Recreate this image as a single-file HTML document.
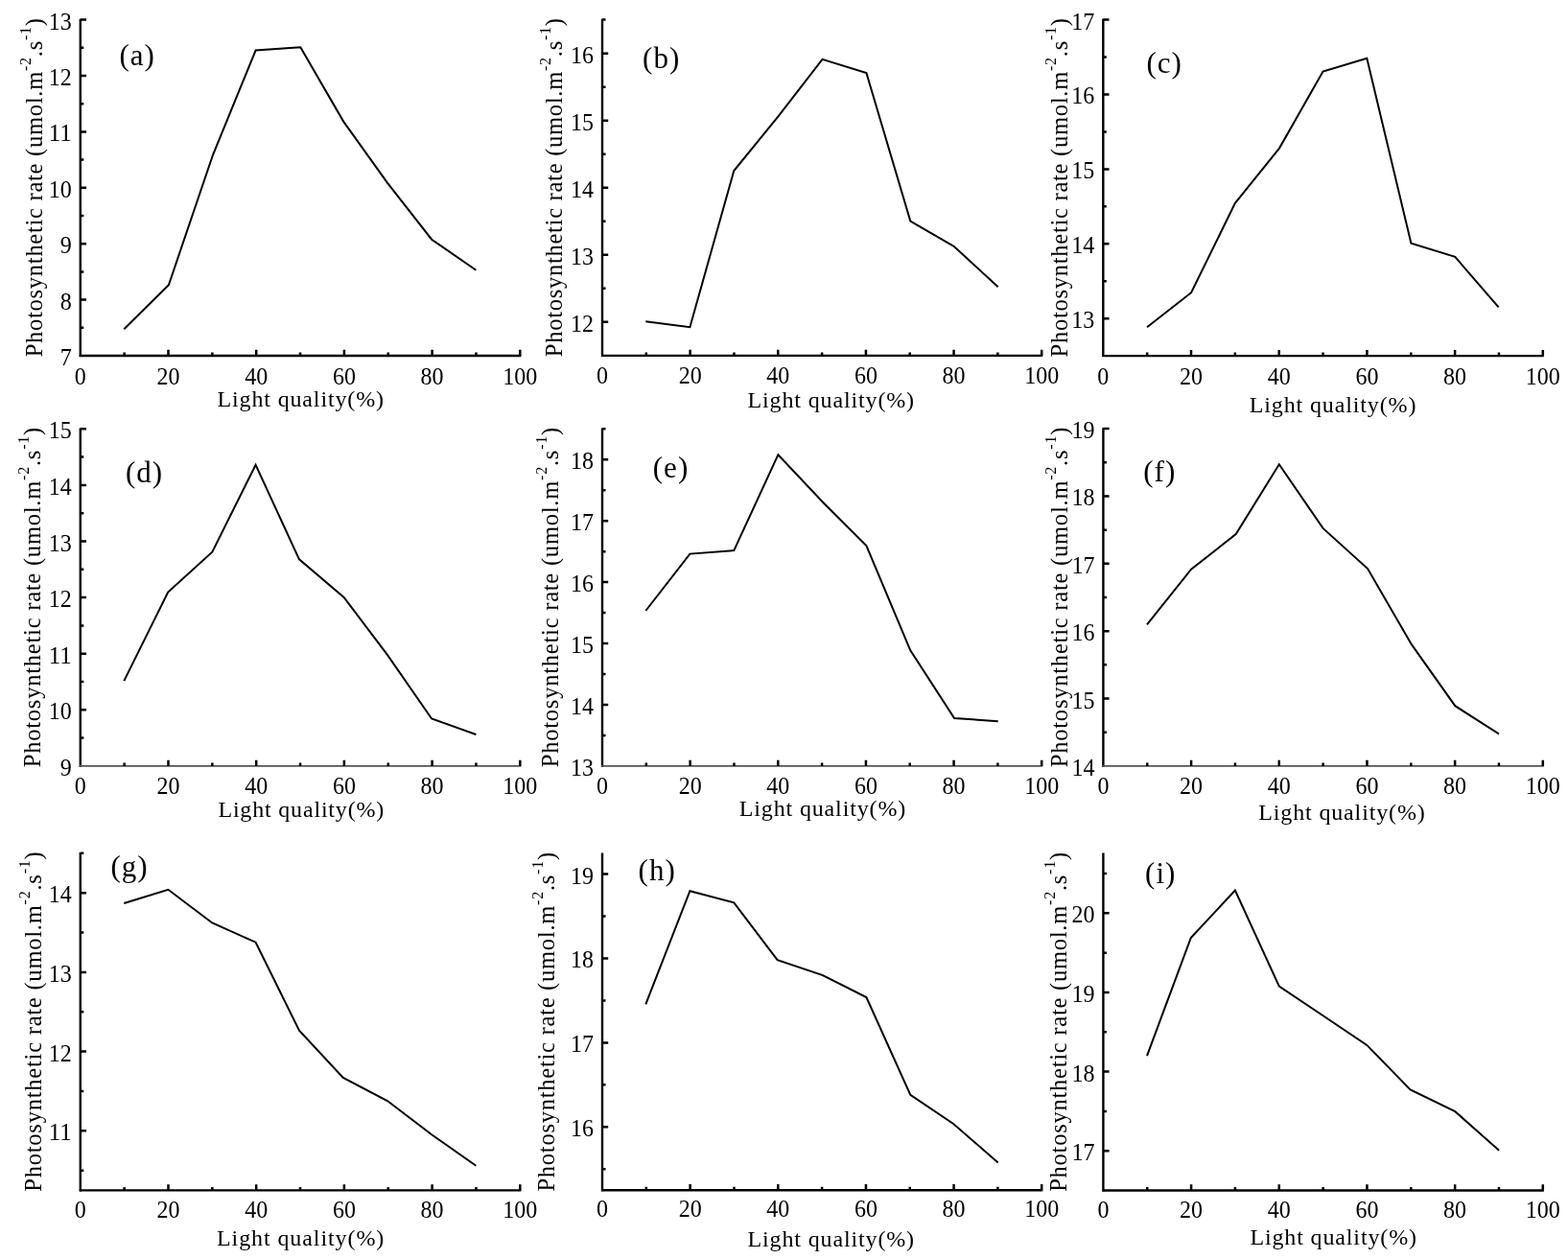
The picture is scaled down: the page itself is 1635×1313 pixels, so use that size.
<!DOCTYPE html>
<html><head><meta charset="utf-8"><title>Photosynthetic rate vs light quality</title>
<style>
html,body{margin:0;padding:0;background:#fff;}
body{width:1635px;height:1313px;overflow:hidden;}
svg{display:block;}
text{font-family:"Liberation Serif", "Times New Roman", serif;fill:#000;}
.ax{fill:none;stroke:#000;stroke-width:2.4;}
.axt{fill:none;stroke:#555;stroke-width:1.6;}
.tk{fill:none;stroke:#000;stroke-width:2.5;}
.ln{fill:none;stroke:#000;stroke-width:2;stroke-linejoin:miter;}
.xl{font-size:25.5px;text-anchor:middle;}
.yl{font-size:25.5px;text-anchor:end;}
.xt{font-size:24px;}
.yt{font-size:24.5px;}
.sup{font-size:16px;}
.pl{font-size:31px;letter-spacing:1px;}
</style></head>
<body>
<svg width="1635" height="1313" viewBox="0 0 1635 1313">
<rect width="1635" height="1313" fill="#fff"/>
<path d="M83.8 19.8V372" class="ax"/>
<path d="M82.8 371H543.3" class="ax"/>
<path d="M129.65 371v-3.5 M175.5 371v-6.2 M221.35 371v-3.5 M267.2 371v-6.2 M313.05 371v-3.5 M358.9 371v-6.2 M404.75 371v-3.5 M450.6 371v-6.2 M496.45 371v-3.5 M542.3 371v-6.2 M83.8 341.8h3.5 M83.8 312.6h6.2 M83.8 283.4h3.5 M83.8 254.2h6.2 M83.8 225h3.5 M83.8 195.8h6.2 M83.8 166.6h3.5 M83.8 137.4h6.2 M83.8 108.2h3.5 M83.8 79h6.2 M83.8 49.8h3.5 M83.8 20.6h6.2" class="tk"/>
<text x="83.8" y="400.5" class="xl" textLength="12" lengthAdjust="spacingAndGlyphs">0</text>
<text x="175.5" y="400.5" class="xl" textLength="24" lengthAdjust="spacingAndGlyphs">20</text>
<text x="267.2" y="400.5" class="xl" textLength="24" lengthAdjust="spacingAndGlyphs">40</text>
<text x="358.9" y="400.5" class="xl" textLength="24" lengthAdjust="spacingAndGlyphs">60</text>
<text x="450.6" y="400.5" class="xl" textLength="24" lengthAdjust="spacingAndGlyphs">80</text>
<text x="542.3" y="400.5" class="xl" textLength="36" lengthAdjust="spacingAndGlyphs">100</text>
<text x="74.8" y="381" class="yl" textLength="12" lengthAdjust="spacingAndGlyphs">7</text>
<text x="74.8" y="322.6" class="yl" textLength="12" lengthAdjust="spacingAndGlyphs">8</text>
<text x="74.8" y="264.2" class="yl" textLength="12" lengthAdjust="spacingAndGlyphs">9</text>
<text x="74.8" y="205.8" class="yl" textLength="24" lengthAdjust="spacingAndGlyphs">10</text>
<text x="74.8" y="147.4" class="yl" textLength="24" lengthAdjust="spacingAndGlyphs">11</text>
<text x="74.8" y="89" class="yl" textLength="24" lengthAdjust="spacingAndGlyphs">12</text>
<text x="74.8" y="30.6" class="yl" textLength="24" lengthAdjust="spacingAndGlyphs">13</text>
<text x="226.5" y="424.4" class="xt" textLength="173.5" lengthAdjust="spacing">Light quality(%)</text>
<text transform="translate(44 372.3) rotate(-90)" class="yt" textLength="353.2" lengthAdjust="spacing">Photosynthetic rate (umol.m<tspan dy="-12" class="sup">-2</tspan><tspan dy="12">.s</tspan><tspan dy="-12" class="sup">-1</tspan><tspan dy="12">)</tspan></text>
<text x="124.4" y="67.5" class="pl">(a)</text>
<polyline points="129.3,343.3 175.9,297.2 222.1,161.3 266.6,52.5 313.3,49.3 358.1,126.6 403.9,190.6 450.1,249.7 496.4,281.7" class="ln"/>
<path d="M628 19.8V371.9" class="ax"/>
<path d="M627 370.9H1087.2" class="ax"/>
<path d="M673.82 370.9v-3.5 M719.64 370.9v-6.2 M765.46 370.9v-3.5 M811.28 370.9v-6.2 M857.1 370.9v-3.5 M902.92 370.9v-6.2 M948.74 370.9v-3.5 M994.56 370.9v-6.2 M1040.38 370.9v-3.5 M1086.2 370.9v-6.2 M628 335.87h6.2 M628 300.84h3.5 M628 265.81h6.2 M628 230.78h3.5 M628 195.75h6.2 M628 160.72h3.5 M628 125.69h6.2 M628 90.66h3.5 M628 55.63h6.2 M628 20.6h3.5" class="tk"/>
<text x="628" y="400.4" class="xl" textLength="12" lengthAdjust="spacingAndGlyphs">0</text>
<text x="719.64" y="400.4" class="xl" textLength="24" lengthAdjust="spacingAndGlyphs">20</text>
<text x="811.28" y="400.4" class="xl" textLength="24" lengthAdjust="spacingAndGlyphs">40</text>
<text x="902.92" y="400.4" class="xl" textLength="24" lengthAdjust="spacingAndGlyphs">60</text>
<text x="994.56" y="400.4" class="xl" textLength="24" lengthAdjust="spacingAndGlyphs">80</text>
<text x="1086.2" y="400.4" class="xl" textLength="36" lengthAdjust="spacingAndGlyphs">100</text>
<text x="619" y="345.87" class="yl" textLength="24" lengthAdjust="spacingAndGlyphs">12</text>
<text x="619" y="275.81" class="yl" textLength="24" lengthAdjust="spacingAndGlyphs">13</text>
<text x="619" y="205.75" class="yl" textLength="24" lengthAdjust="spacingAndGlyphs">14</text>
<text x="619" y="135.69" class="yl" textLength="24" lengthAdjust="spacingAndGlyphs">15</text>
<text x="619" y="65.63" class="yl" textLength="24" lengthAdjust="spacingAndGlyphs">16</text>
<text x="779.5" y="424.9" class="xt" textLength="173.6" lengthAdjust="spacing">Light quality(%)</text>
<text transform="translate(586 372.2) rotate(-90)" class="yt" textLength="353.1" lengthAdjust="spacing">Photosynthetic rate (umol.m<tspan dy="-12" class="sup">-2</tspan><tspan dy="12">.s</tspan><tspan dy="-12" class="sup">-1</tspan><tspan dy="12">)</tspan></text>
<text x="670.1" y="70.9" class="pl">(b)</text>
<polyline points="673.3,335.3 719.4,341.2 765.3,178 811.1,121.8 857.5,61.8 903.4,76 949.3,230.6 995.1,257.2 1040.7,299.3" class="ln"/>
<path d="M1150.3 19.8V372.1" class="ax"/>
<path d="M1149.3 371.1H1609.8" class="ax"/>
<path d="M1196.15 371.1v-3.5 M1242 371.1v-6.2 M1287.85 371.1v-3.5 M1333.7 371.1v-6.2 M1379.55 371.1v-3.5 M1425.4 371.1v-6.2 M1471.25 371.1v-3.5 M1517.1 371.1v-6.2 M1562.95 371.1v-3.5 M1608.8 371.1v-6.2 M1150.3 332.16h6.2 M1150.3 293.21h3.5 M1150.3 254.27h6.2 M1150.3 215.32h3.5 M1150.3 176.38h6.2 M1150.3 137.43h3.5 M1150.3 98.49h6.2 M1150.3 59.54h3.5 M1150.3 20.6h6.2" class="tk"/>
<text x="1150.3" y="400.6" class="xl" textLength="12" lengthAdjust="spacingAndGlyphs">0</text>
<text x="1242" y="400.6" class="xl" textLength="24" lengthAdjust="spacingAndGlyphs">20</text>
<text x="1333.7" y="400.6" class="xl" textLength="24" lengthAdjust="spacingAndGlyphs">40</text>
<text x="1425.4" y="400.6" class="xl" textLength="24" lengthAdjust="spacingAndGlyphs">60</text>
<text x="1517.1" y="400.6" class="xl" textLength="24" lengthAdjust="spacingAndGlyphs">80</text>
<text x="1608.8" y="400.6" class="xl" textLength="36" lengthAdjust="spacingAndGlyphs">100</text>
<text x="1141.3" y="342.16" class="yl" textLength="24" lengthAdjust="spacingAndGlyphs">13</text>
<text x="1141.3" y="264.27" class="yl" textLength="24" lengthAdjust="spacingAndGlyphs">14</text>
<text x="1141.3" y="186.38" class="yl" textLength="24" lengthAdjust="spacingAndGlyphs">15</text>
<text x="1141.3" y="108.49" class="yl" textLength="24" lengthAdjust="spacingAndGlyphs">16</text>
<text x="1141.3" y="30.6" class="yl" textLength="24" lengthAdjust="spacingAndGlyphs">17</text>
<text x="1302.8" y="429.9" class="xt" textLength="173.6" lengthAdjust="spacing">Light quality(%)</text>
<text transform="translate(1113.1 372.4) rotate(-90)" class="yt" textLength="353.3" lengthAdjust="spacing">Photosynthetic rate (umol.m<tspan dy="-12" class="sup">-2</tspan><tspan dy="12">.s</tspan><tspan dy="-12" class="sup">-1</tspan><tspan dy="12">)</tspan></text>
<text x="1195.5" y="76.2" class="pl">(c)</text>
<polyline points="1196,341.2 1242.1,305.2 1287.9,211.9 1334,154.6 1379.5,74.6 1425.3,60.8 1471.4,253.7 1517.3,267.9 1562.6,320.4" class="ln"/>
<path d="M83.8 446.5V799.9" class="ax"/>
<path d="M82.8 798.9H543.3" class="axt"/>
<path d="M129.65 798.9v-3.5 M175.5 798.9v-6.2 M221.35 798.9v-3.5 M267.2 798.9v-6.2 M313.05 798.9v-3.5 M358.9 798.9v-6.2 M404.75 798.9v-3.5 M450.6 798.9v-6.2 M496.45 798.9v-3.5 M542.3 798.9v-6.2 M83.8 769.6h3.5 M83.8 740.3h6.2 M83.8 711h3.5 M83.8 681.7h6.2 M83.8 652.4h3.5 M83.8 623.1h6.2 M83.8 593.8h3.5 M83.8 564.5h6.2 M83.8 535.2h3.5 M83.8 505.9h6.2 M83.8 476.6h3.5 M83.8 447.3h6.2" class="tk"/>
<text x="83.8" y="827.8" class="xl" textLength="12" lengthAdjust="spacingAndGlyphs">0</text>
<text x="175.5" y="827.8" class="xl" textLength="24" lengthAdjust="spacingAndGlyphs">20</text>
<text x="267.2" y="827.8" class="xl" textLength="24" lengthAdjust="spacingAndGlyphs">40</text>
<text x="358.9" y="827.8" class="xl" textLength="24" lengthAdjust="spacingAndGlyphs">60</text>
<text x="450.6" y="827.8" class="xl" textLength="24" lengthAdjust="spacingAndGlyphs">80</text>
<text x="542.3" y="827.8" class="xl" textLength="36" lengthAdjust="spacingAndGlyphs">100</text>
<text x="74.8" y="808.9" class="yl" textLength="12" lengthAdjust="spacingAndGlyphs">9</text>
<text x="74.8" y="750.3" class="yl" textLength="24" lengthAdjust="spacingAndGlyphs">10</text>
<text x="74.8" y="691.7" class="yl" textLength="24" lengthAdjust="spacingAndGlyphs">11</text>
<text x="74.8" y="633.1" class="yl" textLength="24" lengthAdjust="spacingAndGlyphs">12</text>
<text x="74.8" y="574.5" class="yl" textLength="24" lengthAdjust="spacingAndGlyphs">13</text>
<text x="74.8" y="515.9" class="yl" textLength="24" lengthAdjust="spacingAndGlyphs">14</text>
<text x="74.8" y="457.3" class="yl" textLength="24" lengthAdjust="spacingAndGlyphs">15</text>
<text x="227.4" y="851.9" class="xt" textLength="172.9" lengthAdjust="spacing">Light quality(%)</text>
<text transform="translate(42.2 800.2) rotate(-90)" class="yt" textLength="354.4" lengthAdjust="spacing">Photosynthetic rate (umol.m<tspan dy="-12" class="sup">-2</tspan><tspan dy="12">.s</tspan><tspan dy="-12" class="sup">-1</tspan><tspan dy="12">)</tspan></text>
<text x="130.9" y="503.2" class="pl">(d)</text>
<polyline points="129.3,710.1 175.2,617.6 221.3,575.7 266.6,484.8 312,583.3 358.6,622.9 403.9,682.9 450.1,749.5 496.4,766" class="ln"/>
<path d="M628 446.5V799.9" class="ax"/>
<path d="M627 798.9H1087.2" class="axt"/>
<path d="M673.82 798.9v-3.5 M719.64 798.9v-6.2 M765.46 798.9v-3.5 M811.28 798.9v-6.2 M857.1 798.9v-3.5 M902.92 798.9v-6.2 M948.74 798.9v-3.5 M994.56 798.9v-6.2 M1040.38 798.9v-3.5 M1086.2 798.9v-6.2 M628 766.94h3.5 M628 734.97h6.2 M628 703.01h3.5 M628 671.05h6.2 M628 639.08h3.5 M628 607.12h6.2 M628 575.15h3.5 M628 543.19h6.2 M628 511.23h3.5 M628 479.26h6.2 M628 447.3h3.5" class="tk"/>
<text x="628" y="827.8" class="xl" textLength="12" lengthAdjust="spacingAndGlyphs">0</text>
<text x="719.64" y="827.8" class="xl" textLength="24" lengthAdjust="spacingAndGlyphs">20</text>
<text x="811.28" y="827.8" class="xl" textLength="24" lengthAdjust="spacingAndGlyphs">40</text>
<text x="902.92" y="827.8" class="xl" textLength="24" lengthAdjust="spacingAndGlyphs">60</text>
<text x="994.56" y="827.8" class="xl" textLength="24" lengthAdjust="spacingAndGlyphs">80</text>
<text x="1086.2" y="827.8" class="xl" textLength="36" lengthAdjust="spacingAndGlyphs">100</text>
<text x="619" y="808.9" class="yl" textLength="24" lengthAdjust="spacingAndGlyphs">13</text>
<text x="619" y="744.97" class="yl" textLength="24" lengthAdjust="spacingAndGlyphs">14</text>
<text x="619" y="681.05" class="yl" textLength="24" lengthAdjust="spacingAndGlyphs">15</text>
<text x="619" y="617.12" class="yl" textLength="24" lengthAdjust="spacingAndGlyphs">16</text>
<text x="619" y="553.19" class="yl" textLength="24" lengthAdjust="spacingAndGlyphs">17</text>
<text x="619" y="489.26" class="yl" textLength="24" lengthAdjust="spacingAndGlyphs">18</text>
<text x="770.7" y="851.2" class="xt" textLength="173.6" lengthAdjust="spacing">Light quality(%)</text>
<text transform="translate(582 800.2) rotate(-90)" class="yt" textLength="354.4" lengthAdjust="spacing">Photosynthetic rate (umol.m<tspan dy="-12" class="sup">-2</tspan><tspan dy="12">.s</tspan><tspan dy="-12" class="sup">-1</tspan><tspan dy="12">)</tspan></text>
<text x="680.8" y="497.9" class="pl">(e)</text>
<polyline points="673.3,637 719.4,577.6 765.3,574.1 811.4,474.2 857.3,523 903.4,569.1 949.3,678.3 995.1,749 1040.7,752.2" class="ln"/>
<path d="M1150.4 446.3V799.9" class="ax"/>
<path d="M1149.4 798.9H1609.8" class="axt"/>
<path d="M1196.24 798.9v-3.5 M1242.08 798.9v-6.2 M1287.92 798.9v-3.5 M1333.76 798.9v-6.2 M1379.6 798.9v-3.5 M1425.44 798.9v-6.2 M1471.28 798.9v-3.5 M1517.12 798.9v-6.2 M1562.96 798.9v-3.5 M1608.8 798.9v-6.2 M1150.4 763.72h3.5 M1150.4 728.54h6.2 M1150.4 693.36h3.5 M1150.4 658.18h6.2 M1150.4 623h3.5 M1150.4 587.82h6.2 M1150.4 552.64h3.5 M1150.4 517.46h6.2 M1150.4 482.28h3.5 M1150.4 447.1h6.2" class="tk"/>
<text x="1150.4" y="827.8" class="xl" textLength="12" lengthAdjust="spacingAndGlyphs">0</text>
<text x="1242.08" y="827.8" class="xl" textLength="24" lengthAdjust="spacingAndGlyphs">20</text>
<text x="1333.76" y="827.8" class="xl" textLength="24" lengthAdjust="spacingAndGlyphs">40</text>
<text x="1425.44" y="827.8" class="xl" textLength="24" lengthAdjust="spacingAndGlyphs">60</text>
<text x="1517.12" y="827.8" class="xl" textLength="24" lengthAdjust="spacingAndGlyphs">80</text>
<text x="1608.8" y="827.8" class="xl" textLength="36" lengthAdjust="spacingAndGlyphs">100</text>
<text x="1141.4" y="808.9" class="yl" textLength="24" lengthAdjust="spacingAndGlyphs">14</text>
<text x="1141.4" y="738.54" class="yl" textLength="24" lengthAdjust="spacingAndGlyphs">15</text>
<text x="1141.4" y="668.18" class="yl" textLength="24" lengthAdjust="spacingAndGlyphs">16</text>
<text x="1141.4" y="597.82" class="yl" textLength="24" lengthAdjust="spacingAndGlyphs">17</text>
<text x="1141.4" y="527.46" class="yl" textLength="24" lengthAdjust="spacingAndGlyphs">18</text>
<text x="1141.4" y="457.1" class="yl" textLength="24" lengthAdjust="spacingAndGlyphs">19</text>
<text x="1312.2" y="855.3" class="xt" textLength="173.6" lengthAdjust="spacing">Light quality(%)</text>
<text transform="translate(1113.1 800.2) rotate(-90)" class="yt" textLength="354.6" lengthAdjust="spacing">Photosynthetic rate (umol.m<tspan dy="-12" class="sup">-2</tspan><tspan dy="12">.s</tspan><tspan dy="-12" class="sup">-1</tspan><tspan dy="12">)</tspan></text>
<text x="1192.3" y="501.9" class="pl">(f)</text>
<polyline points="1196,651.4 1242.1,593.6 1288.7,557.1 1333.8,484.3 1379.5,550.9 1426.1,593.1 1471.9,672.2 1517.3,736.2 1563.1,765.5" class="ln"/>
<path d="M83.8 889V1242.4" class="ax"/>
<path d="M82.8 1241.4H543.3" class="ax"/>
<path d="M129.65 1241.4v-3.5 M175.5 1241.4v-6.2 M221.35 1241.4v-3.5 M267.2 1241.4v-6.2 M313.05 1241.4v-3.5 M358.9 1241.4v-6.2 M404.75 1241.4v-3.5 M450.6 1241.4v-6.2 M496.45 1241.4v-3.5 M542.3 1241.4v-6.2 M83.8 1220.72h3.5 M83.8 1179.35h6.2 M83.8 1137.99h3.5 M83.8 1096.62h6.2 M83.8 1055.26h3.5 M83.8 1013.89h6.2 M83.8 972.53h3.5 M83.8 931.16h6.2 M83.8 889.8h3.5" class="tk"/>
<text x="83.8" y="1269.5" class="xl" textLength="12" lengthAdjust="spacingAndGlyphs">0</text>
<text x="175.5" y="1269.5" class="xl" textLength="24" lengthAdjust="spacingAndGlyphs">20</text>
<text x="267.2" y="1269.5" class="xl" textLength="24" lengthAdjust="spacingAndGlyphs">40</text>
<text x="358.9" y="1269.5" class="xl" textLength="24" lengthAdjust="spacingAndGlyphs">60</text>
<text x="450.6" y="1269.5" class="xl" textLength="24" lengthAdjust="spacingAndGlyphs">80</text>
<text x="542.3" y="1269.5" class="xl" textLength="36" lengthAdjust="spacingAndGlyphs">100</text>
<text x="74.8" y="1189.35" class="yl" textLength="24" lengthAdjust="spacingAndGlyphs">11</text>
<text x="74.8" y="1106.62" class="yl" textLength="24" lengthAdjust="spacingAndGlyphs">12</text>
<text x="74.8" y="1023.89" class="yl" textLength="24" lengthAdjust="spacingAndGlyphs">13</text>
<text x="74.8" y="941.16" class="yl" textLength="24" lengthAdjust="spacingAndGlyphs">14</text>
<text x="226" y="1298.9" class="xt" textLength="174.3" lengthAdjust="spacing">Light quality(%)</text>
<text transform="translate(43.1 1242.7) rotate(-90)" class="yt" textLength="354.4" lengthAdjust="spacing">Photosynthetic rate (umol.m<tspan dy="-12" class="sup">-2</tspan><tspan dy="12">.s</tspan><tspan dy="-12" class="sup">-1</tspan><tspan dy="12">)</tspan></text>
<text x="115.5" y="914.3" class="pl">(g)</text>
<polyline points="129.3,942 175.4,927.8 221.3,962.5 266.6,982.7 312,1074.7 357.8,1124 403.9,1148 450.1,1183.2 496.4,1215.7" class="ln"/>
<path d="M628 889.6V1242.2" class="ax"/>
<path d="M627 1241.2H1087.2" class="ax"/>
<path d="M673.82 1241.2v-3.5 M719.64 1241.2v-6.2 M765.46 1241.2v-3.5 M811.28 1241.2v-6.2 M857.1 1241.2v-3.5 M902.92 1241.2v-6.2 M948.74 1241.2v-3.5 M994.56 1241.2v-6.2 M1040.38 1241.2v-3.5 M1086.2 1241.2v-6.2 M628 1219.23h3.5 M628 1175.28h6.2 M628 1131.33h3.5 M628 1087.38h6.2 M628 1043.42h3.5 M628 999.48h6.2 M628 955.53h3.5 M628 911.58h6.2" class="tk"/>
<text x="628" y="1269.3" class="xl" textLength="12" lengthAdjust="spacingAndGlyphs">0</text>
<text x="719.64" y="1269.3" class="xl" textLength="24" lengthAdjust="spacingAndGlyphs">20</text>
<text x="811.28" y="1269.3" class="xl" textLength="24" lengthAdjust="spacingAndGlyphs">40</text>
<text x="902.92" y="1269.3" class="xl" textLength="24" lengthAdjust="spacingAndGlyphs">60</text>
<text x="994.56" y="1269.3" class="xl" textLength="24" lengthAdjust="spacingAndGlyphs">80</text>
<text x="1086.2" y="1269.3" class="xl" textLength="36" lengthAdjust="spacingAndGlyphs">100</text>
<text x="619" y="1185.28" class="yl" textLength="24" lengthAdjust="spacingAndGlyphs">16</text>
<text x="619" y="1097.38" class="yl" textLength="24" lengthAdjust="spacingAndGlyphs">17</text>
<text x="619" y="1009.48" class="yl" textLength="24" lengthAdjust="spacingAndGlyphs">18</text>
<text x="619" y="921.58" class="yl" textLength="24" lengthAdjust="spacingAndGlyphs">19</text>
<text x="779.5" y="1300.3" class="xt" textLength="173.6" lengthAdjust="spacing">Light quality(%)</text>
<text transform="translate(578.3 1242.5) rotate(-90)" class="yt" textLength="353.6" lengthAdjust="spacing">Photosynthetic rate (umol.m<tspan dy="-12" class="sup">-2</tspan><tspan dy="12">.s</tspan><tspan dy="-12" class="sup">-1</tspan><tspan dy="12">)</tspan></text>
<text x="665.6" y="918.3" class="pl">(h)</text>
<polyline points="673.3,1047.3 719.4,929.2 765.3,941.4 810.6,1001.1 857.3,1016.8 903.4,1040.1 949.3,1141.9 994.1,1172 1040.7,1212.5" class="ln"/>
<path d="M1150.4 889.6V1242.5" class="ax"/>
<path d="M1149.4 1241.5H1609.8" class="ax"/>
<path d="M1196.24 1241.5v-3.5 M1242.08 1241.5v-6.2 M1287.92 1241.5v-3.5 M1333.76 1241.5v-6.2 M1379.6 1241.5v-3.5 M1425.44 1241.5v-6.2 M1471.28 1241.5v-3.5 M1517.12 1241.5v-6.2 M1562.96 1241.5v-3.5 M1608.8 1241.5v-6.2 M1150.4 1200.19h6.2 M1150.4 1158.89h3.5 M1150.4 1117.58h6.2 M1150.4 1076.28h3.5 M1150.4 1034.97h6.2 M1150.4 993.66h3.5 M1150.4 952.36h6.2 M1150.4 911.05h3.5" class="tk"/>
<text x="1150.4" y="1269.6" class="xl" textLength="12" lengthAdjust="spacingAndGlyphs">0</text>
<text x="1242.08" y="1269.6" class="xl" textLength="24" lengthAdjust="spacingAndGlyphs">20</text>
<text x="1333.76" y="1269.6" class="xl" textLength="24" lengthAdjust="spacingAndGlyphs">40</text>
<text x="1425.44" y="1269.6" class="xl" textLength="24" lengthAdjust="spacingAndGlyphs">60</text>
<text x="1517.12" y="1269.6" class="xl" textLength="24" lengthAdjust="spacingAndGlyphs">80</text>
<text x="1608.8" y="1269.6" class="xl" textLength="36" lengthAdjust="spacingAndGlyphs">100</text>
<text x="1141.4" y="1210.19" class="yl" textLength="24" lengthAdjust="spacingAndGlyphs">17</text>
<text x="1141.4" y="1127.58" class="yl" textLength="24" lengthAdjust="spacingAndGlyphs">18</text>
<text x="1141.4" y="1044.97" class="yl" textLength="24" lengthAdjust="spacingAndGlyphs">19</text>
<text x="1141.4" y="962.36" class="yl" textLength="24" lengthAdjust="spacingAndGlyphs">20</text>
<text x="1303.4" y="1297.6" class="xt" textLength="173.6" lengthAdjust="spacing">Light quality(%)</text>
<text transform="translate(1112.2 1242.8) rotate(-90)" class="yt" textLength="353.9" lengthAdjust="spacing">Photosynthetic rate (umol.m<tspan dy="-12" class="sup">-2</tspan><tspan dy="12">.s</tspan><tspan dy="-12" class="sup">-1</tspan><tspan dy="12">)</tspan></text>
<text x="1194.1" y="920.9" class="pl">(i)</text>
<polyline points="1196,1101.1 1241.8,978 1287.9,928.6 1333.8,1028.6 1380,1059.5 1425.3,1089.9 1470.6,1136.5 1517.3,1159.2 1563.1,1199.7" class="ln"/>
</svg>
</body></html>
